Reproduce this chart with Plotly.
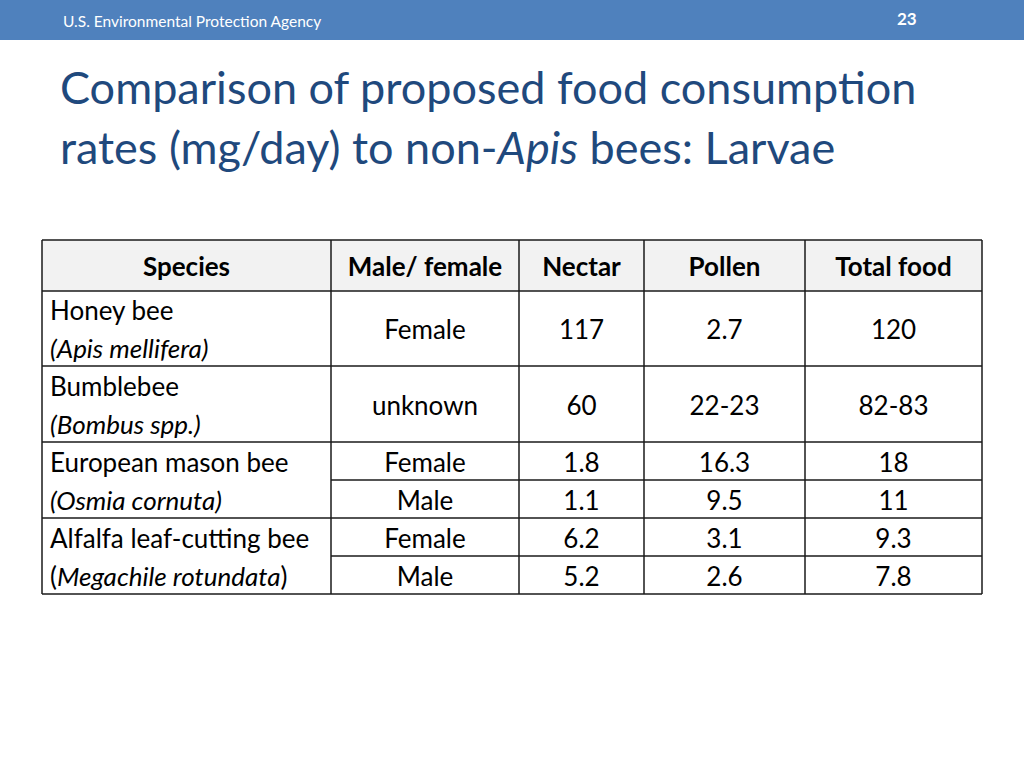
import plotly.graph_objects as go

# table content
headers = ["Species", "Male/ female", "Nectar", "Pollen", "Total food"]
species = ["Honey bee", "Bumblebee", "European mason bee", "Alfalfa leaf-cutting bee"]
latin = ["<i>(Apis mellifera)</i>", "<i>(Bombus spp.)</i>", "<i>(Osmia cornuta)</i>",
         "(<i>Megachile rotundata</i>)"]
row_group = [0, 1, 2, 2, 3, 3]
sex = ["Female", "unknown", "Female", "Male", "Female", "Male"]
nectar = ["117", "60", "1.8", "1.1", "6.2", "5.2"]
pollen = ["2.7", "22-23", "16.3", "9.5", "3.1", "2.6"]
total = ["120", "82-83", "18", "11", "9.3", "7.8"]

# layout of the slide (pixel units)
col_edges = [42, 331, 519, 644, 805, 982]
table_top = 240
header_h = 51
row_heights = [75, 76, 38, 38, 38, 38]
FONT = "Lato"
CELL_SIZE = 26
TEXT_DY = 4  # nudge so the glyphs sit centred like the slide
LINE = "#1a1a1a"

row_edges = [table_top + header_h]
for h in row_heights:
    row_edges.append(row_edges[-1] + h)
col_mid = [(a + b) / 2 for a, b in zip(col_edges[:-1], col_edges[1:])]
row_mid = [(a + b) / 2 + TEXT_DY for a, b in zip(row_edges[:-1], row_edges[1:])]

fig = go.Figure()

shapes = [
    dict(type="rect", xref="paper", yref="y", x0=0, x1=1, y0=0, y1=40,
         fillcolor="#4f81bd", line_width=0, layer="below"),
    dict(type="rect", x0=col_edges[0], x1=col_edges[-1], y0=table_top,
         y1=table_top + header_h, fillcolor="#f2f2f2", line_width=0, layer="below"),
]
# horizontal rules (species column stays open inside a species group)
shapes.append(dict(type="line", x0=col_edges[0], x1=col_edges[-1], y0=table_top, y1=table_top,
                   line=dict(color=LINE, width=1.5)))
for i, y in enumerate(row_edges):
    if 0 < i < len(row_heights) and row_group[i] == row_group[i - 1]:
        x0 = col_edges[1]
    else:
        x0 = col_edges[0]
    shapes.append(dict(type="line", x0=x0, x1=col_edges[-1], y0=y, y1=y,
                       line=dict(color=LINE, width=1.5)))
for x in col_edges:
    shapes.append(dict(type="line", x0=x, x1=x, y0=table_top, y1=row_edges[-1],
                       line=dict(color=LINE, width=1.5)))

# header cells
fig.add_trace(go.Scatter(
    x=col_mid, y=[table_top + header_h / 2 + TEXT_DY] * len(headers),
    text=["<b>%s</b>" % h for h in headers], mode="text",
    textposition="middle center",
    textfont=dict(family=FONT, size=CELL_SIZE, color="#000000"), hoverinfo="skip"))

# species column: two lines spread over the group's rows
sp_x, sp_y, sp_t = [], [], []
for g in range(len(species)):
    idx = [i for i, rg in enumerate(row_group) if rg == g]
    top, bot = row_edges[idx[0]], row_edges[idx[-1] + 1]
    h = bot - top
    sp_x += [col_edges[0] + 8] * 2
    sp_y += [top + h / 4 + TEXT_DY, top + 3 * h / 4 + TEXT_DY]
    sp_t += [species[g], latin[g]]
fig.add_trace(go.Scatter(
    x=sp_x, y=sp_y, text=sp_t, mode="text", textposition="middle right",
    textfont=dict(family=FONT, size=CELL_SIZE, color="#000000"), hoverinfo="skip"))

# value columns
for c, col in enumerate([sex, nectar, pollen, total], start=1):
    fig.add_trace(go.Scatter(
        x=[col_mid[c]] * len(col), y=row_mid, text=col, mode="text",
        textposition="middle center",
        textfont=dict(family=FONT, size=CELL_SIZE, color="#000000"), hoverinfo="skip"))

annotations = [
    dict(x=61, y=21, text="U.S. Environmental Protection Agency", showarrow=False,
         xanchor="left", yanchor="middle", font=dict(family=FONT, size=15.5, color="#ffffff")),
    dict(x=907, y=18, text="<b>23</b>", showarrow=False, xanchor="center", yanchor="middle",
         font=dict(family=FONT, size=17, color="#ffffff")),
    dict(x=58, y=87, text="Comparison of proposed food consumption", showarrow=False,
         xanchor="left", yanchor="middle", font=dict(family=FONT, size=45, color="#1f497d")),
    dict(x=58, y=147, text="rates (mg/day) to non-<i>Apis</i> bees: Larvae", showarrow=False,
         xanchor="left", yanchor="middle", font=dict(family=FONT, size=45, color="#1f497d")),
]

fig.update_layout(
    width=1024, height=768, margin=dict(l=0, r=0, t=0, b=0),
    paper_bgcolor="#ffffff", plot_bgcolor="#ffffff", showlegend=False,
    xaxis=dict(range=[0, 1024], visible=False, fixedrange=True),
    yaxis=dict(range=[768, 0], visible=False, fixedrange=True),
    shapes=shapes, annotations=annotations,
)

fig.write_html("out.html", config={"displayModeBar": False},
               post_script="document.body.style.margin='0';")
